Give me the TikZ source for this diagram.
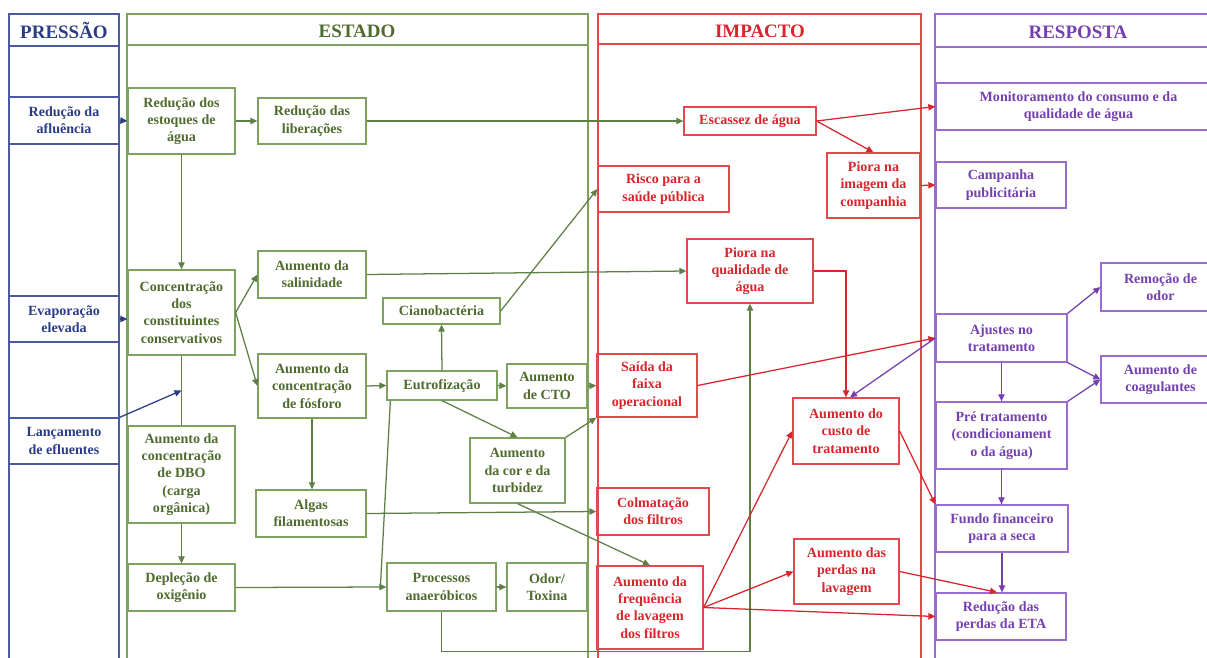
\documentclass[tikz,border=0pt]{standalone}
\usepackage{fontspec}
\setmainfont{Liberation Serif}
\usepackage{tikz}
\usetikzlibrary{arrows.meta, positioning, calc}
\usepackage{xcolor}
\definecolor{prsblue}{HTML}{2B3C86}
\definecolor{prsline}{HTML}{4B5AA2}
\definecolor{estgreen}{HTML}{4F6B2E}
\definecolor{estline}{HTML}{7FA160}
\definecolor{estarrow}{HTML}{5E7F45}
\definecolor{impred}{HTML}{D6262C}
\definecolor{impline}{HTML}{E04A4F}
\definecolor{resviolet}{HTML}{7440B0}
\definecolor{resline}{HTML}{9A6BD0}

\begin{document}
\begin{tikzpicture}[
  x=0.25mm, y=-0.25mm,
  box/.style={rectangle, draw, line width=0.9pt, align=center, inner sep=1pt,
              font=\fontsize{10}{12.3}\selectfont\bfseries},
  pbox/.style={box, draw=prsline, text=prsblue},
  ebox/.style={box, draw=estline, text=estgreen},
  ibox/.style={box, draw=impline, text=impred},
  rbox/.style={box, draw=resline, text=resviolet},
  pnl/.style={line width=1.2pt},
  hdr/.style={font=\fontsize{13.5}{15}\selectfont\bfseries},
  arr/.style={-{Triangle[length=5pt,width=4.5pt]}, line width=0.9pt, #1},
  lnk/.style={line width=0.9pt, #1}
]
\clip (0,0) rectangle (1207,658);

% === Panels ===
\draw[pnl, prsline, line width=1.6pt] (9,670) -- (9,14) -- (119,14) -- (119,670);
\draw[pnl, prsline] (9,46) -- (119,46);
\draw[pnl, estline] (127,670) -- (127,14) -- (588,14) -- (588,670);
\draw[pnl, estline] (127,45) -- (588,45);
\draw[pnl, impline] (598,670) -- (598,14) -- (921,14) -- (921,670);
\draw[pnl, impline] (598,44) -- (921,44);
\draw[pnl, resline] (935,670) -- (935,14) -- (1225,14);
\draw[pnl, resline] (935,47) -- (1225,47);

\node[hdr, prsblue]   (hP) at (64,30)   {PRESSÃO};
\node[hdr, estgreen]  (hE) at (357,31)  {ESTADO};
\node[hdr, impred]    (hI) at (760,31)  {IMPACTO};
\node[hdr, resviolet] (hR) at (1078,32) {RESPOSTA};

% === Pressão ===
\node[pbox, minimum width=27.5mm, minimum height=11.75mm] (afl)  at (64,120.5) {Redução da\\afluência};
\node[pbox, minimum width=27.5mm, minimum height=11.5mm]  (evap) at (64,319)   {Evaporação\\elevada};
\node[pbox, minimum width=27.5mm, minimum height=11.5mm]  (lanc) at (64,441)   {Lançamento\\de efluentes};

% === Estado ===
\node[ebox, minimum width=26.75mm, minimum height=16.5mm]  (est)  at (181.5,121)   {Redução dos\\estoques de\\água};
\node[ebox, minimum width=27mm,    minimum height=11.5mm]  (lib)  at (312,121)     {Redução das\\liberações};
\node[ebox, minimum width=26.75mm, minimum height=21.25mm] (conc) at (181.5,312.5) {Concentração\\dos\\constituintes\\conservativos};
\node[ebox, minimum width=27mm,    minimum height=11.75mm] (sal)  at (312,274.5)   {Aumento da\\salinidade};
\node[ebox, minimum width=27mm,    minimum height=16mm]    (fosf) at (312,386)     {Aumento da\\concentração\\de fósforo};
\node[ebox, minimum width=26.75mm, minimum height=24.25mm] (dbo)  at (181.5,474.5) {Aumento da\\concentração\\de DBO\\(carga\\orgânica)};
\node[ebox, minimum width=26.75mm, minimum height=11.75mm] (depl) at (181.5,587.5) {Depleção de\\oxigênio};
\node[ebox, minimum width=27.5mm,  minimum height=11.75mm] (alg)  at (311,513.5)   {Algas\\filamentosas};
\node[ebox, minimum width=29.25mm, minimum height=6.5mm]   (cian) at (441.5,311)   {Cianobactéria};
\node[ebox, minimum width=27.5mm,  minimum height=7.25mm]  (eut)  at (442,385.5)   {Eutrofização};
\node[ebox, minimum width=20mm,    minimum height=11mm]    (cto)  at (547,386)     {Aumento\\de CTO};
\node[ebox, minimum width=23.75mm, minimum height=16.25mm] (cor)  at (517.5,470.5) {Aumento\\da cor e da\\turbidez};
\node[ebox, minimum width=27.25mm, minimum height=12mm]    (proc) at (441.5,587)   {Processos\\anaeróbicos};
\node[ebox, minimum width=20mm,    minimum height=12mm]    (odor) at (547,587)     {Odor/\\Toxina};

% === Impacto ===
\node[ibox, minimum width=33mm,    minimum height=7mm]     (esc)   at (750,121)    {Escassez de água};
\node[ibox, minimum width=23.25mm, minimum height=16.25mm] (img)   at (873.5,185.5){Piora na\\imagem da\\companhia};
\node[ibox, minimum width=32.75mm, minimum height=11.5mm]  (risco) at (663.5,189)  {Risco para a\\saúde pública};
\node[ibox, minimum width=31.5mm,  minimum height=16mm]    (qual)  at (750,271)    {Piora na\\qualidade de\\água};
\node[ibox, minimum width=25mm,    minimum height=15.75mm] (saida) at (647,385.5)  {Saída da\\faixa\\operacional};
\node[ibox, minimum width=26.5mm,  minimum height=16.5mm]  (custo) at (846,431)    {Aumento do\\custo de\\tratamento};
\node[ibox, minimum width=28mm,    minimum height=11.75mm] (colm)  at (653,511.5)  {Colmatação\\dos filtros};
\node[ibox, minimum width=26.5mm,  minimum height=20.75mm] (freq)  at (650,607.5)  {Aumento da\\frequência\\de lavagem\\dos filtros};
\node[ibox, minimum width=26.25mm, minimum height=16.25mm] (perd)  at (846.5,571.5){Aumento das\\perdas na\\lavagem};

% === Resposta ===
\node[rbox, minimum width=71.25mm, minimum height=11.75mm] (mon)   at (1078.5,106.5) {Monitoramento do consumo e da\\qualidade de água};
\node[rbox, minimum width=32.5mm,  minimum height=11.5mm]  (camp)  at (1001,185)     {Campanha\\publicitária};
\node[rbox, minimum width=32.75mm, minimum height=12mm]    (ajus)  at (1001.5,338)   {Ajustes no\\tratamento};
\node[rbox, minimum width=29.75mm, minimum height=12mm]    (remo)  at (1160.5,287)   {Remoção de\\odor};
\node[rbox, minimum width=29.75mm, minimum height=11.75mm] (coag)  at (1160.5,379.5) {Aumento de\\coagulantes};
\node[rbox, minimum width=32.75mm, minimum height=16.75mm] (pre)   at (1001.5,435.5) {Pré tratamento\\(condicionament\\o da água)};
\node[rbox, minimum width=33mm,    minimum height=11.75mm] (fundo) at (1002,528.5)   {Fundo financeiro\\para a seca};
\node[rbox, minimum width=32.5mm,  minimum height=11.75mm] (eta)   at (1001,616.5)   {Redução das\\perdas da ETA};

% === Connectors: pressão ===
\coordinate (lj) at ($(conc.south)!0.5!(dbo.north)$);
\draw[arr=prsblue] (afl.east) -- (est.west);
\draw[arr=prsblue] (evap.east) -- (evap.east -| conc.west);
\draw[arr=prsblue] (lanc.north east) -- (lj);

% === Connectors: estado ===
\coordinate (jn) at ($(proc.west)+(-6,0)$);
\draw[arr=estarrow] (est.east) -- (lib.west);
\draw[arr=estarrow] (est.south) -- (conc.north);
\draw[lnk=estarrow] (conc.south) -- (dbo.north);
\draw[arr=estarrow] (dbo.south) -- (depl.north);
\draw[arr=estarrow] (lib.east) -- (esc.west);
\draw[arr=estarrow] (conc.east) -- (sal.west);
\draw[arr=estarrow] (conc.east) -- (fosf.west);
\draw[arr=estarrow] (sal.east) -- (qual.west);
\draw[arr=estarrow] (fosf.east) -- (eut.west);
\draw[arr=estarrow] (fosf.south) -- (fosf.south |- alg.north);
\draw[arr=estarrow] (eut.north) -- (cian.south);
\draw[arr=estarrow] (cian.east) -- (risco.west);
\draw[arr=estarrow] (eut.east) -- (cto.west);
\draw[arr=estarrow] (cto.east) -- (saida.west);
\draw[arr=estarrow] (eut.south) -- (cor.north);
\draw[arr=estarrow] (cor.north east) -- (saida.south west);
\draw[arr=estarrow] (cor.south) -- (freq.north);
\draw[arr=estarrow] (alg.east) -- (colm.west);
\draw[arr=estarrow] (depl.east) -- (proc.west);
\draw[lnk=estarrow] ([xshift=1mm]eut.south west) -- (jn);
\draw[arr=estarrow] (proc.east) -- (odor.west);
\draw[arr=estarrow] (proc.south) -- ++(0,40) -| (qual.south);

% === Connectors: impacto ===
\draw[arr=impred] (esc.east) -- (mon.west);
\draw[arr=impred] (esc.east) -- (img.north);
\draw[arr=impred] (img.east) -- (camp.west);
\draw[arr=impred] (qual.east) -| (custo.north);
\draw[arr=impred] (saida.east) -- (ajus.west);
\draw[arr=impred] (custo.east) -- (fundo.north west);
\draw[arr=impred] (freq.east) -- (custo.west);
\draw[arr=impred] (freq.east) -- (perd.west);
\draw[arr=impred] (freq.east) -- (eta.west);
\draw[arr=impred] (perd.east) -- ([xshift=-1mm]eta.north);

% === Connectors: resposta ===
\draw[arr=resviolet] (ajus.west) -- ([xshift=1mm]custo.north);
\draw[arr=resviolet] (ajus.north east) -- (remo.west);
\draw[arr=resviolet] (ajus.south east) -- (coag.west);
\draw[arr=resviolet] (pre.north east) -- (coag.west);
\draw[arr=resviolet] (ajus.south) -- (pre.north);
\draw[arr=resviolet] (pre.south) -- (pre.south |- fundo.north);
\draw[arr=resviolet] (fundo.south) -- (fundo.south |- eta.north);

\end{tikzpicture}
\end{document}
